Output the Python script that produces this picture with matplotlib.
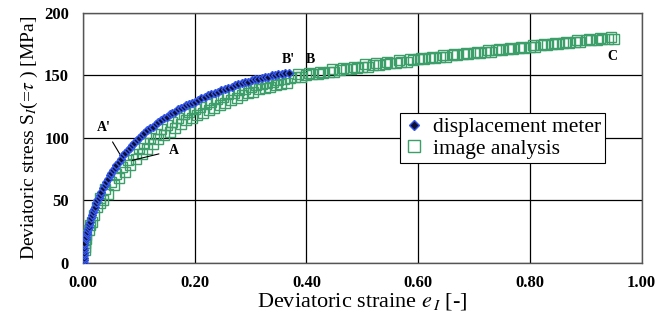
import matplotlib
matplotlib.use("Agg")
import matplotlib.pyplot as plt

plt.rcParams['font.family'] = ['Liberation Serif', 'DejaVu Serif']
plt.rcParams['mathtext.fontset'] = 'stix'

# displacement meter
disp_strain = [0.002, 0.002, 0.002, 0.002, 0.002, 0.002, 0.002, 0.002, 0.002,
               0.005, 0.006, 0.007, 0.008, 0.009, 0.010, 0.011, 0.012, 0.014, 0.016, 0.018,
               0.020, 0.022, 0.024, 0.026, 0.028, 0.030, 0.033, 0.036, 0.039, 0.042, 0.045,
               0.048, 0.051, 0.054, 0.057, 0.060, 0.064, 0.068, 0.072, 0.076, 0.080, 0.084,
               0.088, 0.092, 0.096, 0.100, 0.105, 0.110, 0.115, 0.120, 0.125, 0.130, 0.135,
               0.140, 0.145, 0.150, 0.155, 0.160, 0.165, 0.170, 0.175, 0.180, 0.185, 0.190,
               0.195, 0.200, 0.206, 0.212, 0.218, 0.224, 0.230, 0.236, 0.242, 0.248, 0.254,
               0.260, 0.266, 0.272, 0.278, 0.284, 0.290, 0.296, 0.302, 0.308, 0.314, 0.320,
               0.326, 0.332, 0.338, 0.344, 0.350, 0.356, 0.362, 0.368]
disp_stress = [0, 2, 4, 6, 8, 10, 12, 14, 16,
               19, 21, 23, 25, 27, 29, 31, 33, 36, 38, 41,
               43, 45, 48, 50, 52, 54, 57, 60, 62, 65, 67,
               70, 72, 74, 76, 78, 81, 83, 86, 88, 90, 92,
               94, 96, 98, 100, 102, 104, 106, 108, 109, 111, 113,
               114, 116, 117, 119, 120, 121, 123, 124, 125, 126, 127,
               128, 129, 130, 132, 133, 134, 135, 136, 137, 138, 139,
               140, 141, 142, 143, 144, 145, 145, 146, 147, 147, 148,
               149, 149, 150, 150, 151, 151, 152, 152]

# image analysis: start cluster
img_start_strain = [0.004, 0.004, 0.004, 0.005, 0.006, 0.010, 0.013, 0.016, 0.020, 0.025, 0.030, 0.035]
img_start_stress = [10, 13, 16, 19, 22, 26, 30, 33, 38, 45, 48, 50]
# image analysis: upper band
img_up_strain = [0.03, 0.04, 0.05, 0.06, 0.07, 0.08, 0.09, 0.10, 0.11, 0.12, 0.13, 0.14,
                 0.15, 0.16, 0.17, 0.18, 0.19, 0.20, 0.21, 0.22, 0.23, 0.24, 0.25, 0.26,
                 0.27, 0.28, 0.29, 0.30, 0.31, 0.32, 0.33, 0.34, 0.35, 0.36, 0.37]
img_up_stress = [52, 59, 65, 71, 77, 82, 87, 92, 96, 100, 103, 107,
                 110, 113, 116, 119, 121, 123, 125, 127, 129, 131, 133, 135,
                 136, 138, 139, 141, 142, 143, 144, 145, 146, 147, 148]
# image analysis: lower band
img_low_strain = [0.045, 0.055, 0.065, 0.075, 0.085, 0.095, 0.105, 0.115, 0.125, 0.135, 0.145,
                  0.155, 0.165, 0.175, 0.185, 0.195, 0.205, 0.215, 0.225, 0.235, 0.245, 0.255,
                  0.265, 0.275, 0.285, 0.295, 0.305, 0.315, 0.325, 0.335, 0.345, 0.355, 0.365]
img_low_stress = [55, 62, 68, 73, 78, 83, 87, 91, 95, 99, 102,
                  105, 108, 111, 114, 116, 118, 120, 122, 124, 126, 128,
                  130, 132, 134, 136, 137, 139, 140, 141, 142, 143, 144]
# image analysis: tail
img_tail_strain = [0.38, 0.39, 0.40, 0.41, 0.42, 0.43, 0.44, 0.45, 0.46, 0.47, 0.48, 0.49,
                   0.50, 0.51, 0.52, 0.53, 0.54, 0.55, 0.56, 0.57, 0.58, 0.59, 0.60, 0.61,
                   0.62, 0.63, 0.64, 0.65, 0.66, 0.67, 0.68, 0.69, 0.70, 0.71, 0.72, 0.73,
                   0.74, 0.75, 0.76, 0.77, 0.78, 0.79, 0.80, 0.81, 0.82, 0.83, 0.84, 0.85,
                   0.86, 0.87, 0.88, 0.89, 0.90, 0.91, 0.92, 0.93, 0.94, 0.95]
img_tail_stress = [149, 149, 150, 151, 151, 152, 153, 153, 154, 155, 155, 156,
                   157, 157, 158, 158, 159, 160, 160, 161, 161, 162, 163, 163,
                   164, 164, 165, 165, 166, 166, 167, 167, 168, 168, 169, 169,
                   170, 170, 171, 171, 172, 172, 173, 173, 174, 174, 175, 175,
                   176, 176, 177, 177, 178, 178, 178, 179, 179, 179]
img_tail2_strain = [0.385, 0.405, 0.425, 0.445, 0.465, 0.485, 0.505, 0.525, 0.545, 0.565,
                    0.585, 0.605, 0.625, 0.645, 0.665, 0.685, 0.705, 0.725, 0.745, 0.765,
                    0.785, 0.805, 0.825, 0.845, 0.865, 0.885, 0.905, 0.925, 0.945]
img_tail2_stress = [151, 152, 153, 155, 156, 157, 159, 160, 161, 162,
                    163, 164, 165, 166, 167, 168, 169, 170, 171, 172,
                    173, 174, 175, 176, 177, 178, 179, 180, 181]

x_ticks = [0.0, 0.2, 0.4, 0.6, 0.8, 1.0]
x_tick_labels = ['0.00', '0.20', '0.40', '0.60', '0.80', '1.00']
y_ticks = [0, 50, 100, 150, 200]

fig = plt.figure(figsize=(6.69, 3.21), dpi=100)
ax = fig.add_axes([0.124, 0.181, 0.835, 0.779])

green = '#3c9e68'
sq = dict(linestyle='none', marker='s', markersize=7, markerfacecolor='none',
          markeredgecolor=green, markeredgewidth=1.0, zorder=3)
ax.plot(img_start_strain, img_start_stress, **sq)
ax.plot(img_low_strain, img_low_stress, **sq)
ax.plot(img_up_strain, img_up_stress, **sq)
ax.plot(img_tail_strain, img_tail_stress, **sq)
ax.plot(img_tail2_strain, img_tail2_stress, **sq)
ax.plot(disp_strain, disp_stress, linestyle='none', marker='D', markersize=4.5,
        markerfacecolor='#101030', markeredgecolor='#3558f0', markeredgewidth=1.0, zorder=4)

ax.set_xlim(0, 1.0)
ax.set_ylim(0, 200)
ax.set_xticks(x_ticks)
ax.set_xticklabels(x_tick_labels)
ax.set_yticks(y_ticks)
ax.tick_params(length=0, labelsize=12)
ax.tick_params(axis='x', pad=9)
ax.tick_params(axis='y', pad=10)
for lab in ax.get_xticklabels() + ax.get_yticklabels():
    lab.set_fontweight('bold')
ax.grid(True, color='black', linewidth=0.9)
ax.set_axisbelow(True)
for s in ax.spines.values():
    s.set_color('#555555')
    s.set_linewidth(1.0)

ax.set_xlabel(r'Deviatoric straine $e_{\,I}$ [-]', fontsize=16, labelpad=0)
ax.set_ylabel(r'Deviatoric stress S$_{I}$(=$\tau$ ) [MPa]', fontsize=14, labelpad=3)

# annotations
ax.annotate("A'", xy=(0.070, 84), xytext=(0.038, 108), fontsize=10, fontweight='bold',
            ha='center', va='center',
            arrowprops=dict(arrowstyle='-', color='black', lw=0.8, shrinkA=4, shrinkB=0))
ax.annotate("A", xy=(0.088, 82), xytext=(0.162, 90), fontsize=10, fontweight='bold',
            ha='center', va='center',
            arrowprops=dict(arrowstyle='-', color='black', lw=0.8, shrinkA=5, shrinkB=0))
ax.text(0.368, 163, "B'", fontsize=10, fontweight='bold', ha='center', va='center')
ax.text(0.407, 163, "B", fontsize=10, fontweight='bold', ha='center', va='center')
ax.text(0.948, 165, "C", fontsize=10, fontweight='bold', ha='center', va='center')

h_disp = plt.Line2D([], [], linestyle='none', marker='D', markersize=5,
                    markerfacecolor='#101030', markeredgecolor='#3558f0', markeredgewidth=1.0)
h_img = plt.Line2D([], [], linestyle='none', marker='s', markersize=8,
                   markerfacecolor='none', markeredgecolor=green, markeredgewidth=1.0)
leg = ax.legend([h_disp, h_img], ['displacement meter', 'image analysis'],
                loc='lower left', bbox_to_anchor=(0.568, 0.40),
                fontsize=15.5, frameon=True, fancybox=False, edgecolor='black', framealpha=1,
                handlelength=0.9, handletextpad=0.4, borderpad=0.2, labelspacing=0.05,
                borderaxespad=0)
leg.get_frame().set_linewidth(0.8)

fig.savefig('out.png', dpi=100)
